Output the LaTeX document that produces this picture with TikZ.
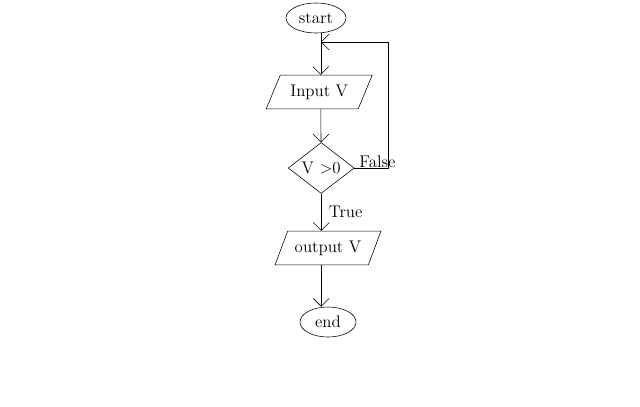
\documentclass[tikz,border=0pt]{standalone}
\usepackage{tikz}
\usetikzlibrary{arrows.meta,positioning,shapes.geometric}
\tikzset{
  term/.style={draw, ellipse, thin, minimum width=1.5cm, minimum height=0.75cm, inner sep=0pt, font=\large},
  io/.style={draw, trapezium, trapezium left angle=55, trapezium right angle=125,
             trapezium stretches=true, thin, minimum width=2.65cm, minimum height=0.84cm, inner sep=0pt, font=\large},
  cond/.style={draw, diamond, thin, minimum width=1.65cm, minimum height=1.2cm, inner sep=0pt, font=\large},
  flow/.style={-{Straight Barb[length=2mm]}, thin},
  lbl/.style={font=\large},
}
\begin{document}
\begin{tikzpicture}
  \useasboundingbox (0,0) rectangle (16,-10.15);
  \node[term] (start) at (7.9,-0.45) {start};
  \node[io] (inp) at (7.98,-2.3) {Input V};
  \node[cond] (test) at (8.03,-4.2) {V $>$0};
  \node[io] (outp) at (8.2,-6.2) {output V};
  \node[term, minimum width=1.4cm] (stop) at (8.2,-8.05) {end};
  \coordinate (join) at (8.02,-1.05);
  \coordinate (back) at (9.7,-1.05);
  % main flow
  \draw[flow] (start.south -| join) -- (join |- inp.north);
  \draw[flow] (inp.south -| join) -- (test);
  \draw[flow] (test.south) -- (test.south |- outp.north) node[lbl, midway, right=2pt] {True};
  \draw[flow] (outp.south -| test.south) -- (test.south |- stop.north);
  % loop back
  \draw[flow] (test.east) -| (back) -- (join);
  \node[lbl, above right=-3pt and 0pt of test.east] (fl) {False};
\end{tikzpicture}
\end{document}
